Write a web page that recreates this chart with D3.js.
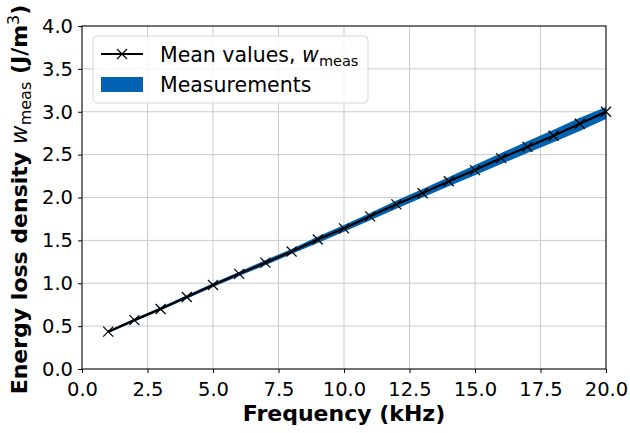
<!DOCTYPE html>
<html>
<head>
<meta charset="utf-8">
<script src="https://cdn.jsdelivr.net/npm/d3@7"></script>
<style>
  body { margin: 0; background: #fff; }
  text { font-family: "DejaVu Sans", sans-serif; }
</style>
</head>
<body>
<div id="chart-area"></div>
<script>
// data
const freq = [1, 2, 3, 4, 5, 6, 7, 8, 9, 10, 11, 12, 13, 14, 15, 16, 17, 18, 19, 20];
const meanValues = [0.435, 0.57, 0.70, 0.84, 0.98, 1.11, 1.24, 1.37, 1.51, 1.64,
                    1.78, 1.92, 2.05, 2.19, 2.32, 2.46, 2.59, 2.72, 2.86, 3.00];
const measLow = [0.42, 0.555, 0.685, 0.82, 0.955, 1.085, 1.21, 1.34, 1.47, 1.60,
                 1.735, 1.87, 2.00, 2.13, 2.26, 2.39, 2.52, 2.645, 2.775, 2.915];
const measHigh = [0.445, 0.585, 0.72, 0.86, 1.00, 1.135, 1.27, 1.40, 1.545, 1.68,
                  1.82, 1.965, 2.10, 2.24, 2.38, 2.52, 2.655, 2.79, 2.93, 3.055];
const xTicks = [0, 2.5, 5, 7.5, 10, 12.5, 15, 17.5, 20];
const yTicks = [0, 0.5, 1, 1.5, 2, 2.5, 3, 3.5, 4];

// canvas and margins
const canvasWidth = 630;
const canvasHeight = 433;
const margin = { top: 26, bottom: 64, left: 82, right: 24 };
const width = canvasWidth - margin.left - margin.right;
const height = canvasHeight - margin.top - margin.bottom;

const svgRoot = d3.select("#chart-area")
  .append("svg")
    .attr("width", canvasWidth)
    .attr("height", canvasHeight);

const svg = svgRoot.append("g")
  .attr("transform", `translate(${margin.left}, ${margin.top})`);

// scales
const xScale = d3.scaleLinear().domain([0, 20]).range([0, width]);
const yScale = d3.scaleLinear().domain([0, 4]).range([height, 0]);

// grid
svg.append("g")
  .selectAll("line")
  .data(xTicks)
  .join("line")
    .attr("x1", d => xScale(d)).attr("x2", d => xScale(d))
    .attr("y1", 0).attr("y2", height)
    .attr("stroke", "#cbcbcb").attr("stroke-width", 1);

svg.append("g")
  .selectAll("line")
  .data(yTicks)
  .join("line")
    .attr("y1", d => yScale(d)).attr("y2", d => yScale(d))
    .attr("x1", 0).attr("x2", width)
    .attr("stroke", "#cbcbcb").attr("stroke-width", 1);

// measurement band
const rows = freq.map((f, i) => ({ f: f, lo: measLow[i], hi: measHigh[i], m: meanValues[i] }));

svg.append("path")
  .datum(rows)
  .attr("fill", "#0062b0")
  .attr("d", d3.area()
    .x(d => xScale(d.f))
    .y0(d => yScale(d.lo))
    .y1(d => yScale(d.hi)));

// mean line
svg.append("path")
  .datum(rows)
  .attr("fill", "none")
  .attr("stroke", "#000")
  .attr("stroke-width", 2.2)
  .attr("d", d3.line().x(d => xScale(d.f)).y(d => yScale(d.m)));

// x markers
const mk = 5;
const xMark = `M${-mk},${-mk}L${mk},${mk}M${-mk},${mk}L${mk},${-mk}`;
svg.append("g")
  .selectAll("path")
  .data(rows)
  .join("path")
    .attr("transform", d => `translate(${xScale(d.f)},${yScale(d.m)})`)
    .attr("d", xMark)
    .attr("stroke", "#000")
    .attr("stroke-width", 1.2)
    .attr("fill", "none");

// axes
const xAxis = d3.axisBottom(xScale)
  .tickValues(xTicks)
  .tickSize(4)
  .tickSizeOuter(0)
  .tickPadding(4)
  .tickFormat(d3.format(".1f"));

const yAxis = d3.axisLeft(yScale)
  .tickValues(yTicks)
  .tickSize(4)
  .tickSizeOuter(0)
  .tickPadding(5)
  .tickFormat(d3.format(".1f"));

const gx = svg.append("g")
  .attr("transform", `translate(0,${height})`)
  .call(xAxis);

const gy = svg.append("g").call(yAxis);

[gx, gy].forEach(g => {
  g.select(".domain").remove();
  g.selectAll("line").attr("stroke", "#000").attr("stroke-width", 1);
  g.selectAll("text")
    .attr("fill", "#000")
    .attr("font-size", "19.5px")
    .attr("font-family", "DejaVu Sans");
});
gx.selectAll("text").attr("dy", "0.97em");

// spines
svg.append("rect")
  .attr("x", 0).attr("y", 0)
  .attr("width", width).attr("height", height)
  .attr("fill", "none")
  .attr("stroke", "#000")
  .attr("stroke-width", 1);

// axis labels
svgRoot.append("text")
  .attr("x", margin.left + width / 2)
  .attr("y", 421)
  .attr("text-anchor", "middle")
  .attr("font-size", "22px")
  .attr("font-weight", "bold")
  .text("Frequency (kHz)");

const yLabel = svgRoot.append("text")
  .attr("transform", `translate(27,${margin.top + height / 2 + 2}) rotate(-90)`)
  .attr("text-anchor", "middle")
  .attr("font-size", "22px");

yLabel.append("tspan").attr("font-weight", "bold").text("Energy loss density ");
yLabel.append("tspan").attr("font-style", "italic").attr("font-size", "23px").text("w");
yLabel.append("tspan").attr("font-size", "16px").attr("dy", 4).text("meas");
yLabel.append("tspan").attr("font-weight", "bold").attr("dy", -4).text(" (J/m");
yLabel.append("tspan").attr("font-size", "16px").attr("dy", -8).text("3");
yLabel.append("tspan").attr("font-weight", "bold").attr("dy", 8).text(")");

// legend
const legend = svgRoot.append("g").attr("transform", "translate(93,36)");

legend.append("rect")
  .attr("width", 275).attr("height", 67)
  .attr("rx", 4).attr("ry", 4)
  .attr("fill", "#fff").attr("fill-opacity", 0.8)
  .attr("stroke", "#d6d6d6").attr("stroke-width", 1);

legend.append("line")
  .attr("x1", 8).attr("x2", 50)
  .attr("y1", 18).attr("y2", 18)
  .attr("stroke", "#000").attr("stroke-width", 2.2);

legend.append("path")
  .attr("transform", "translate(29,18)")
  .attr("d", xMark)
  .attr("stroke", "#000").attr("stroke-width", 1.2);

legend.append("rect")
  .attr("x", 8).attr("y", 41)
  .attr("width", 42).attr("height", 15)
  .attr("fill", "#0062b0");

const l1 = legend.append("text")
  .attr("x", 67).attr("y", 26)
  .attr("font-size", "20.5px");
l1.append("tspan").text("Mean values, ");
l1.append("tspan").attr("font-style", "italic").text("w");
l1.append("tspan").attr("font-size", "14.5px").attr("dy", 4).text("meas");

legend.append("text")
  .attr("x", 67).attr("y", 56)
  .attr("font-size", "20.5px")
  .text("Measurements");
</script>
</body>
</html>
